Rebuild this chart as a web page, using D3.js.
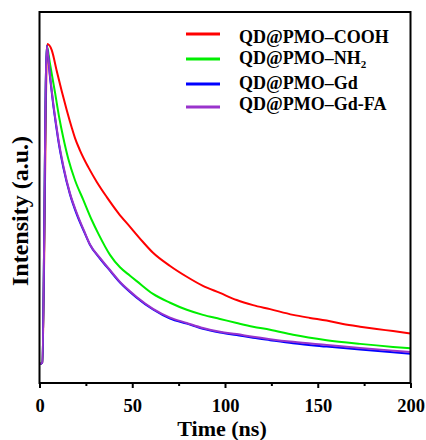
<!DOCTYPE html>
<html>
<head>
<meta charset="utf-8">
<script src="https://cdn.jsdelivr.net/npm/d3@7"></script>
<style>
  body { margin: 0; background: #fff; }
  svg text { font-family: 'Liberation Serif', 'Times New Roman', Times, 'DejaVu Serif', serif !important; font-weight: bold; }
</style>
</head>
<body>
<div id="vis"></div>
<script>
// Frame
const FRAME_WIDTH = 426;
const FRAME_HEIGHT = 440;
const MARGINS = {left: 39.5, right: 15.5, top: 12, bottom: 57};
const FONT = "'Liberation Serif', 'Times New Roman', Times, 'DejaVu Serif', serif";

// Data (time in ns, normalised intensity)
const seriesNames = ["QD@PMO\u2013COOH", "QD@PMO\u2013NH", "QD@PMO\u2013Gd", "QD@PMO\u2013Gd-FA"];
const seriesColors = ["#ff0000", "#00ee00", "#0000ff", "#9933cc"];

const timeCOOH = [0, 1.5, 4.2, 6.6, 9.3, 12.0, 14.7, 17.4, 19.1, 21.8, 26.3, 30.8, 36.2, 42.5, 48.8, 55.8, 61.2, 70.4, 79.4, 88.1, 97.3, 106.3, 115.1, 124.3, 136.7, 145.8, 154.8, 163.6, 172.8, 181.8, 190.6, 200];
const intCOOH  = [0.056, 0.06, 1.005, 0.987, 0.925, 0.865, 0.809, 0.757, 0.727, 0.690, 0.640, 0.597, 0.552, 0.504, 0.463, 0.418, 0.386, 0.347, 0.315, 0.288, 0.267, 0.246, 0.231, 0.219, 0.202, 0.193, 0.185, 0.175, 0.167, 0.160, 0.154, 0.147];

const timeNH2 = [0, 1.5, 3.9, 5.7, 8.4, 10.7, 12.8, 15.5, 19.1, 23.6, 28.1, 31.7, 38.0, 43.4, 48.8, 52.4, 61.2, 70.4, 79.4, 88.1, 97.3, 106.3, 115.1, 124.3, 136.7, 154.8, 172.8, 190.6, 200];
const intNH2  = [0.056, 0.06, 1.0, 0.945, 0.860, 0.785, 0.728, 0.665, 0.602, 0.543, 0.484, 0.443, 0.380, 0.343, 0.318, 0.302, 0.264, 0.238, 0.217, 0.202, 0.190, 0.178, 0.167, 0.158, 0.143, 0.127, 0.116, 0.107, 0.103];

const timeGd = [0, 1.5, 3.9, 5.7, 7.4, 8.9, 10.1, 12.8, 16.4, 20.1, 24.5, 27.2, 32.6, 38.0, 43.4, 48.8, 52.4, 61.2, 70.4, 79.4, 88.1, 97.3, 106.3, 115.1, 124.3, 136.7, 154.8, 172.8, 190.6, 200];
const intGd  = [0.056, 0.06, 1.0, 0.905, 0.825, 0.765, 0.720, 0.640, 0.560, 0.500, 0.443, 0.410, 0.369, 0.333, 0.298, 0.270, 0.253, 0.218, 0.191, 0.176, 0.161, 0.150, 0.142, 0.134, 0.127, 0.118, 0.108, 0.099, 0.091, 0.087];

const timeGdFA = [0, 1.5, 3.9, 5.7, 7.4, 8.9, 10.1, 12.8, 16.4, 20.1, 24.5, 27.2, 32.6, 38.0, 43.4, 48.8, 52.4, 61.2, 70.4, 79.4, 88.1, 97.3, 106.3, 115.1, 124.3, 136.7, 154.8, 172.8, 190.6, 200];
const intGdFA  = [0.056, 0.06, 1.0, 0.910, 0.830, 0.770, 0.725, 0.645, 0.563, 0.504, 0.445, 0.411, 0.371, 0.335, 0.300, 0.272, 0.255, 0.220, 0.194, 0.178, 0.163, 0.152, 0.145, 0.137, 0.130, 0.122, 0.113, 0.104, 0.096, 0.092];

const majorTicks = [0, 50, 100, 150, 200];
const minorTicks = [25, 75, 125, 175];

const seriesData = [
  d3.zip(timeCOOH, intCOOH),
  d3.zip(timeNH2, intNH2),
  d3.zip(timeGd, intGd),
  d3.zip(timeGdFA, intGdFA)
];

const VIS_WIDTH = FRAME_WIDTH - MARGINS.left - MARGINS.right;
const VIS_HEIGHT = FRAME_HEIGHT - MARGINS.top - MARGINS.bottom;

const FRAME = d3.select("#vis")
  .append("svg")
    .attr("width", FRAME_WIDTH)
    .attr("height", FRAME_HEIGHT)
    .attr("font-family", FONT)
    .attr("font-weight", "bold");

const X_SCALE = d3.scaleLinear()
  .domain([0, 200])
  .range([MARGINS.left, MARGINS.left + VIS_WIDTH]);

const Y_SCALE = d3.scaleLinear()
  .domain([0, 1.1])
  .range([MARGINS.top + VIS_HEIGHT, MARGINS.top]);

// curves
const line = d3.line()
  .x(d => X_SCALE(d[0]))
  .y(d => Y_SCALE(d[1]))
  .curve(d3.curveMonotoneX);

FRAME.append("g")
  .selectAll("path")
  .data(seriesData)
  .enter()
  .append("path")
    .attr("d", line)
    .attr("fill", "none")
    .attr("stroke", (d, i) => seriesColors[i])
    .attr("stroke-width", 2)
    .attr("stroke-linejoin", "round");

// frame box
FRAME.append("rect")
  .attr("x", MARGINS.left)
  .attr("y", MARGINS.top)
  .attr("width", VIS_WIDTH)
  .attr("height", VIS_HEIGHT)
  .attr("fill", "none")
  .attr("stroke", "#000")
  .attr("stroke-width", 2);

// x axis, major ticks
const xAxis = FRAME.append("g")
  .attr("transform", "translate(0," + (MARGINS.top + VIS_HEIGHT) + ")")
  .call(d3.axisBottom(X_SCALE).tickValues(majorTicks).tickSize(5).tickPadding(11));
xAxis.attr("font-family", FONT);
xAxis.select(".domain").remove();
xAxis.selectAll("line").attr("stroke-width", 2);
xAxis.selectAll("text")
  .attr("font-size", "18.5px")
  .attr("font-family", FONT)
  .attr("font-weight", "bold")
  .attr("fill", "#000");

// minor ticks
const xMinor = FRAME.append("g")
  .attr("transform", "translate(0," + (MARGINS.top + VIS_HEIGHT) + ")")
  .call(d3.axisBottom(X_SCALE).tickValues(minorTicks).tickSize(3).tickFormat(""));
xMinor.select(".domain").remove();
xMinor.selectAll("line").attr("stroke-width", 2);

// axis titles
FRAME.append("text")
  .attr("x", 222)
  .attr("y", 436)
  .attr("text-anchor", "middle")
  .attr("font-family", FONT)
  .attr("font-size", "22px")
  .text("Time (ns)");

FRAME.append("text")
  .attr("transform", "translate(28,211) rotate(-90)")
  .attr("text-anchor", "middle")
  .attr("font-family", FONT)
  .attr("font-size", "24px")
  .text("Intensity (a.u.)");

// legend
const legendLineY = [34, 59, 84, 107];
const legendTextY = [43, 64, 89, 110];

const legend = FRAME.append("g");
legend.selectAll("line")
  .data(seriesNames)
  .enter()
  .append("line")
    .attr("x1", 186)
    .attr("x2", 220)
    .attr("y1", (d, i) => legendLineY[i])
    .attr("y2", (d, i) => legendLineY[i])
    .attr("stroke", (d, i) => seriesColors[i])
    .attr("stroke-width", 3);

const labels = legend.selectAll("text")
  .data(seriesNames)
  .enter()
  .append("text")
    .attr("x", 239)
    .attr("y", (d, i) => legendTextY[i])
    .attr("font-family", FONT)
    .attr("font-size", "18px")
    .text(d => d);

// subscript for NH2
labels.filter((d, i) => i == 1)
  .append("tspan")
    .attr("dy", 4)
    .attr("font-size", "11px")
    .text("2");
</script>
</body>
</html>
